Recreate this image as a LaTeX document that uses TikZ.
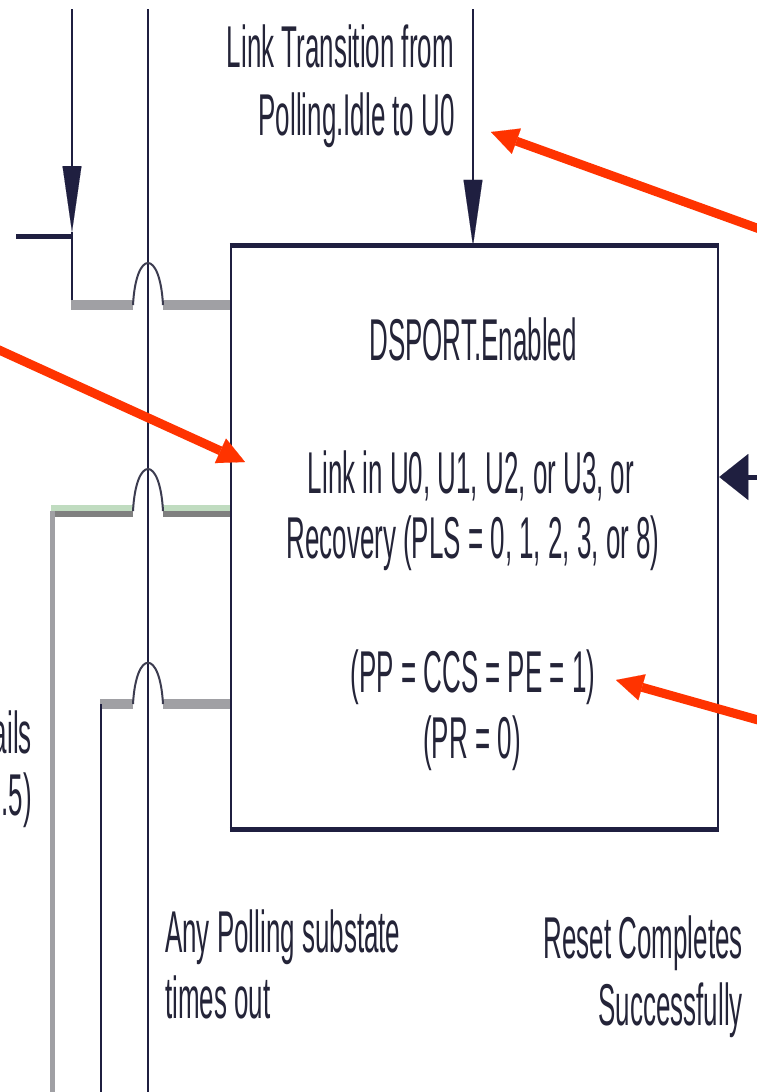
\documentclass[tikz,border=0pt]{standalone}
\usepackage{fontspec}
\setmainfont{Liberation Sans}[FakeStretch=0.44]
\usetikzlibrary{arrows.meta}
\definecolor{navy}{RGB}{31,31,64}
\definecolor{txtc}{RGB}{36,36,56}
\definecolor{redc}{RGB}{255,51,0}
\definecolor{grayA}{RGB}{160,160,164}
\definecolor{grayB}{RGB}{128,128,128}
\definecolor{greenA}{RGB}{192,220,192}
\definecolor{archc}{RGB}{60,60,80}
\tikzset{
  thinline/.style={draw=navy, line width=2.5pt},
  grayline/.style={draw=grayA, line width=10pt},
  hop/.style={draw=archc, line width=2pt},
  redarrow/.style={draw=redc, fill=redc, line width=9pt, -{Triangle[length=27pt,width=27pt,line width=0.1pt]}},
  downarrow/.style={draw=navy, fill=navy, line width=2.5pt, -{Triangle[length=66pt,width=19pt,line width=0.1pt]}},
  leftarrow/.style={draw=navy, fill=navy, line width=5pt, -{Triangle[length=29pt,width=46pt,line width=0.1pt]}},
  lbl/.style={inner sep=0pt, text=txtc, font=\fontsize{59pt}{66pt}\selectfont},
}
\begin{document}
\begin{tikzpicture}[x=1pt,y=-1pt]
\useasboundingbox (0,0) rectangle (757,1092);
\fill[white] (0,0) rectangle (757,1092);

% main box
\node[draw=navy, line width=2.5pt, minimum width=487pt, minimum height=581pt, inner sep=0pt] (box) at (474.5,537.5) {};
\draw[navy, line width=5pt] (box.north west) -- (box.north east);
\draw[navy, line width=5pt] (box.south west) -- (box.south east);

% coordinates
\coordinate (a1top) at (72,9);
\coordinate (a1tip) at (72,232);
\coordinate (a1bend) at (72,305);
\coordinate (h1left) at (16,236);
\coordinate (h1right) at (72,236);
\coordinate (vmidtop) at (148,9);
\coordinate (vmidbot) at (148,1100);
\coordinate (a2top) at (473,9);
\coordinate (rin) at (770,477);

% long vertical through line
\draw[thinline] (vmidtop) -- (vmidbot);

% left top arrow and feed
\draw[thinline] (a1tip) -- (a1bend);
\draw[downarrow] (a1top) -- (a1tip);
\draw[navy, line width=5pt] (h1left) -- (h1right);

% gray line A with hop
\coordinate (gA1) at (71,305);
\coordinate (gA2) at (133,305);
\coordinate (gA3) at (163,305);
\draw[grayline] (gA1) -- (gA2);
\draw[grayline] (gA3) -- (box.west |- gA3);
\draw[hop] (gA2) .. controls (136,249) and (160,249) .. (gA3);

% line B (green/gray) with hop
\coordinate (gB1) at (51,508);
\coordinate (gB2) at (133,508);
\coordinate (gB3) at (163,508);
\coordinate (gB4) at (51,514);
\coordinate (gB5) at (133,514);
\coordinate (gB6) at (163,514);
\coordinate (gBv1) at (52.5,511);
\coordinate (gBv2) at (52.5,1100);
\coordinate (hB1) at (133,511);
\coordinate (hB2) at (163,511);
\draw[draw=greenA, line width=6pt] (gB1) -- (gB2);
\draw[draw=greenA, line width=6pt] (gB3) -- (box.west |- gB3);
\draw[draw=grayB, line width=6pt] (gB4) -- (gB5);
\draw[draw=grayB, line width=6pt] (gB6) -- (box.west |- gB6);
\draw[draw=grayA, line width=5pt] (gBv1) -- (gBv2);
\draw[hop] (hB1) .. controls (136,455) and (160,455) .. (hB2);

% line C with hop
\coordinate (gC1) at (100,704);
\coordinate (gC2) at (133,704);
\coordinate (gC3) at (163,704);
\coordinate (gCv1) at (101,704);
\coordinate (gCv2) at (101,1100);
\draw[grayline] (gC1) -- (gC2);
\draw[grayline] (gC3) -- (box.west |- gC3);
\draw[thinline] (gCv1) -- (gCv2);
\draw[hop] (gC2) .. controls (136,649) and (160,649) .. (gC3);

% top arrow into box
\draw[downarrow] (a2top) -- (box.north -| a2top);

% right arrow into box
\draw[leftarrow] (rin) -- (box.east |- rin);

% texts
\node[lbl, anchor=base east] (tlink1) at (454,67) {Link Transition from};
\node[lbl, anchor=base east] (tlink2) at (455,135) {Polling.Idle to U0};
\node[lbl, anchor=base] (tds) at (473,360) {DSPORT.Enabled};
\node[lbl, anchor=base] (tl1) at (471,493) {Link in U0, U1, U2, or U3, or};
\node[lbl, anchor=base] (tl2) at (473,558) {Recovery (PLS = 0, 1, 2, 3, or 8)};
\node[lbl, anchor=base] (tp1) at (473,692) {(PP = CCS = PE = 1)};
\node[lbl, anchor=base] (tp2) at (472,758) {(PR = 0)};
\node[lbl, anchor=base west] (tany1) at (165,952) {Any Polling substate};
\node[lbl, anchor=base west] (tany2) at (165,1018) {times out};
\node[lbl, anchor=base east] (trst1) at (743,958) {Reset Completes};
\node[lbl, anchor=base east] (trst2) at (743,1025) {Successfully};
\node[lbl, anchor=base east] (tails) at (32,753) {ails};
\node[lbl, anchor=base east] (tfive) at (32,815) {.5)};

% red annotation arrows
\coordinate (r1s) at (790,240);
\coordinate (r1t) at (491,132);
\coordinate (r2s) at (-25,339);
\coordinate (r2t) at (245,462);
\coordinate (r3s) at (790,729);
\coordinate (r3t) at (616,680);
\draw[redarrow] (r1s) -- (r1t);
\draw[redarrow] (r2s) -- (r2t);
\draw[redarrow] (r3s) -- (r3t);
\end{tikzpicture}
\end{document}
